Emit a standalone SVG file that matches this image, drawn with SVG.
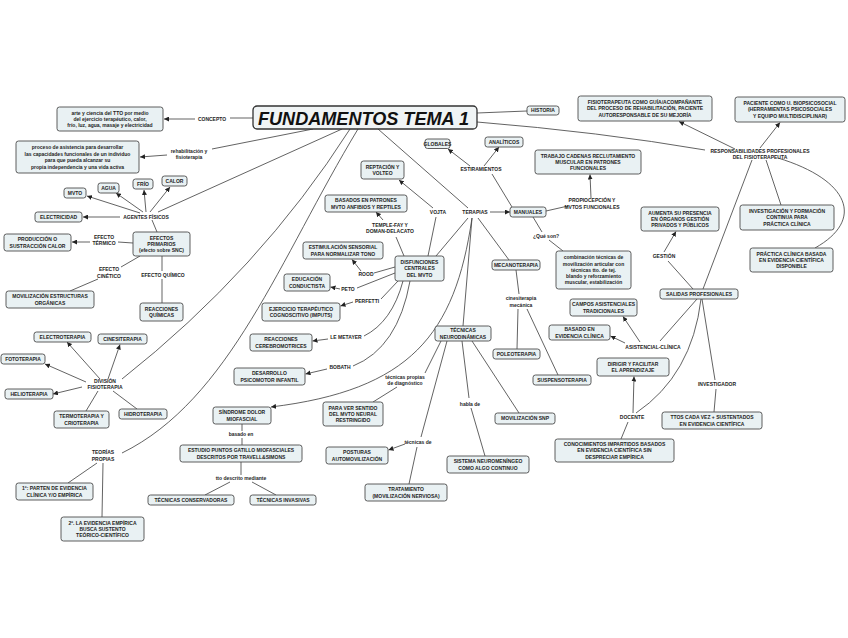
<svg xmlns="http://www.w3.org/2000/svg" width="848" height="638" viewBox="0 0 848 638">
<defs>
<marker id="a" viewBox="0 0 10 10" refX="10" refY="5" markerWidth="5" markerHeight="5" orient="auto" markerUnits="userSpaceOnUse"><path d="M0,0 L10,5 L0,10 z" fill="#222"/></marker>
<style>
.b{fill:#e9f1f3;stroke:#4d4d4d;stroke-width:0.9}
text{font-family:"Liberation Sans",Arial,sans-serif;font-size:5px;font-weight:bold;fill:#1e1e1e;text-anchor:middle}
.c path{fill:none;stroke:#474747;stroke-width:0.85}
.c .ar{marker-end:url(#a)}
.t{fill:#f0f4f5;stroke:#333;stroke-width:1.3}
.tt{font-size:19px;font-style:italic;text-anchor:start;fill:#111}
</style>
</defs>
<rect width="848" height="638" fill="#fff"/>
<g class="c">
<path d="M253,118 L230,118"/>
<path class="ar" d="M195,119 L164,119"/>
<path d="M313,129 L212,149"/>
<path class="ar" d="M167,155 L140,157"/>
<path d="M342,129 L158,212"/>
<path class="ar" d="M140,213 L87,196"/>
<path class="ar" d="M143,212 L116,193"/>
<path class="ar" d="M146,212 L144,190"/>
<path class="ar" d="M150,212 L170,187"/>
<path class="ar" d="M120,217 L83,217"/>
<path d="M152,220 L157,232"/>
<path d="M133,243 L118,242"/>
<path class="ar" d="M90,242 L72,242"/>
<path d="M140,256 L121,267"/>
<path d="M98,279 L70,291"/>
<path d="M162,256 L162,271"/>
<path d="M162,279 L162,303"/>
<path d="M350,129 Q260,270 122,379"/>
<path class="ar" d="M100,379 L67,342"/>
<path class="ar" d="M108,379 L120,344.5"/>
<path class="ar" d="M86,382 L45,364"/>
<path class="ar" d="M82,387 L53,394"/>
<path d="M98,391 L86,411"/>
<path d="M113,391 L137,409"/>
<path d="M358,129 C280,258 230,400 122,453"/>
<path d="M97,463 L68,483"/>
<path d="M103,463 L102,517"/>
<path class="ar" d="M472,218 C455,335 410,390 271,407"/>
<path d="M242,424 L242,431"/>
<path d="M242,438 L242,445"/>
<path d="M241,462 L241,475"/>
<path d="M230,482 L205,495"/>
<path d="M252,482 L276,495"/>
<path d="M378,129 L468,208"/>
<path class="ar" d="M490,212 L510,212"/>
<path d="M512,207 L492,174"/>
<path class="ar" d="M470,166 L448,149"/>
<path class="ar" d="M484,166 L499,147"/>
<path d="M533,217 L542,232"/>
<path d="M549,240 L563,251"/>
<path d="M546,211 L568,206"/>
<path class="ar" d="M591,198 L590,174.5"/>
<path d="M468,218 L436,256"/>
<path d="M472,218 L463,326"/>
<path d="M478,218 L509,260"/>
<path d="M428,256 L436,217"/>
<path class="ar" d="M433,208 L399,180"/>
<path d="M404,256 L396,237"/>
<path class="ar" d="M383,220 L376,212"/>
<path d="M395,267 L374,273"/>
<path class="ar" d="M361,271 L352,259.5"/>
<path d="M395,273 L357,288"/>
<path class="ar" d="M340,289 L330.5,287"/>
<path d="M398,281 L381,299"/>
<path class="ar" d="M353,302 L340.5,306"/>
<path d="M403,281 Q392,322 364,336"/>
<path class="ar" d="M328,339 L312.5,341"/>
<path d="M410,281 Q398,348 353,366"/>
<path class="ar" d="M327,369 L305.5,374"/>
<path d="M441,341 L425,373"/>
<path d="M397,387 L373,402"/>
<path d="M447,341 L421,437"/>
<path d="M417,447 L409,484"/>
<path class="ar" d="M405,444 L388.5,450"/>
<path d="M462,341 L469,398"/>
<path d="M471,408 L485,456"/>
<path d="M472,341 L519,413"/>
<path d="M516,270 L519,294"/>
<path d="M518,309 L517,349"/>
<path d="M527,309 L558,375"/>
<path d="M477,113 L527,111"/>
<path d="M477,122 Q600,132 705,150"/>
<path class="ar" d="M735,149 L679,121.5"/>
<path class="ar" d="M760,148 L780,122.5"/>
<path d="M766,160 L781,205"/>
<path d="M778,158 C850,180 865,220 815,248"/>
<path d="M752,160 L703,289"/>
<path d="M693,289 L668,261"/>
<path class="ar" d="M664,252 L676,231.5"/>
<path d="M697,299 L660,341"/>
<path class="ar" d="M640,342 L623,316.5"/>
<path class="ar" d="M625,343 L610.5,336"/>
<path d="M701,299 Q692,375 636,413"/>
<path class="ar" d="M633,413 L634,376.5"/>
<path d="M628,422 L621,439"/>
<path d="M702,299 L715,380"/>
<path d="M716,389 L714,412"/>
</g>
<g id="labels">
<text x="212" y="120.8">CONCEPTO</text>
<text x="189" y="152.5">rehabilitación y<tspan x="189" dy="6.3">fisioterapia</tspan></text>
<text x="146" y="218.5">AGENTES FÍSICOS</text>
<text x="104" y="238.5">EFECTO<tspan x="104" dy="6.6">TÉRMICO</tspan></text>
<text x="109" y="271">EFECTO<tspan x="109" dy="6.5">CINÉTICO</tspan></text>
<text x="163" y="277">EFECTO QUÍMICO</text>
<text x="105" y="382.5">DIVISIÓN<tspan x="105" dy="6.3">FISIOTERAPIA</tspan></text>
<text x="103" y="454">TEORÍAS<tspan x="103" dy="6.5">PROPIAS</tspan></text>
<text x="390" y="227">TEMPLE-FAY Y<tspan x="390" dy="6.3">DOMAN-DELACATO</tspan></text>
<text x="438" y="213.8">VOJTA</text>
<text x="366" y="276">ROOD</text>
<text x="348" y="291">PETO</text>
<text x="367" y="302.8">PERFETTI</text>
<text x="346" y="338.5">LE METAYER</text>
<text x="340" y="368.5">BOBATH</text>
<text x="405" y="378.5">técnicas propias<tspan x="405" dy="6.5">de diagnóstico</tspan></text>
<text x="241" y="436">basado en</text>
<text x="241" y="480">tto descrito mediante</text>
<text x="418" y="444">técnicas de</text>
<text x="470" y="405.8">habla de</text>
<text x="521" y="300">cinesiterapia<tspan x="521" dy="6.8">mecánica</tspan></text>
<text x="546" y="237.5">¿Qué son?</text>
<text x="475" y="214">TERAPIAS</text>
<text x="481" y="170.8">ESTIRAMIENTOS</text>
<text x="592" y="201.8">PROPIOCEPCIÓN Y<tspan x="592" dy="6.7">MVTOS FUNCIONALES</tspan></text>
<text x="760" y="152.5">RESPONSABILIDADES PROFESIONALES<tspan x="760" dy="6">DEL FISIOTERAPEUTA</tspan></text>
<text x="664" y="257.5">GESTIÓN</text>
<text x="653" y="348.5">ASISTENCIAL-CLÍNICA</text>
<text x="717" y="385.8">INVESTIGADOR</text>
<text x="632" y="419">DOCENTE</text>
</g>
<g id="title"><rect class="t" x="253" y="106" width="224" height="23" rx="4"/><text class="tt" x="258" y="124.5" textLength="211" lengthAdjust="spacingAndGlyphs">FUNDAMENTOS TEMA 1</text></g>
<g id="n_arte"><rect class="b" x="57" y="107" width="106" height="24" rx="2.5"/><text x="110" y="114.5">arte y ciencia del TTO por medio<tspan x="110" dy="6.3">del ejercicio terapéutico, calor,</tspan><tspan x="110" dy="6.3">frío, luz, agua, masaje y electricidad</tspan></text></g>
<g id="n_proc"><rect class="b" x="16" y="141" width="123" height="32" rx="2.5"/><text x="77.5" y="149.3">proceso de asistencia para desarrollar<tspan x="77.5" dy="6.5">las capacidades funcionales de un individuo</tspan><tspan x="77.5" dy="6.5">para que pueda alcanzar su</tspan><tspan x="77.5" dy="6.5">propia independencia y una vida activa</tspan></text></g>
<g id="n_mvto"><rect class="b" x="64" y="188" width="22" height="10" rx="2.5"/><text x="75" y="194.8">MVTO</text></g>
<g id="n_agua"><rect class="b" x="98" y="183" width="21" height="10" rx="2.5"/><text x="108.5" y="189.8">AGUA</text></g>
<g id="n_frio"><rect class="b" x="133" y="179" width="20" height="10" rx="2.5"/><text x="143" y="185.8">FRÍO</text></g>
<g id="n_calor"><rect class="b" x="162" y="176" width="25" height="10" rx="2.5"/><text x="174.5" y="182.8">CALOR</text></g>
<g id="n_elec"><rect class="b" x="35" y="212" width="47" height="10" rx="2.5"/><text x="58.5" y="218.8">ELECTRICIDAD</text></g>
<g id="n_efectos"><rect class="b" x="133" y="232" width="57" height="24" rx="2.5"/><text x="161.5" y="239.5">EFECTOS<tspan x="161.5" dy="6.3">PRIMARIOS</tspan><tspan x="161.5" dy="6.3">(efecto sobre SNC)</tspan></text></g>
<g id="n_prod"><rect class="b" x="4" y="234" width="67" height="17" rx="2.5"/><text x="37.5" y="241.2">PRODUCCIÓN O<tspan x="37.5" dy="6.3">SUSTRACCIÓN CALOR</tspan></text></g>
<g id="n_movest"><rect class="b" x="6" y="291" width="88" height="17" rx="2.5"/><text x="50" y="298.2">MOVILIZACIÓN ESTRUCTURAS<tspan x="50" dy="6.3">ORGÁNICAS</tspan></text></g>
<g id="n_reacq"><rect class="b" x="140" y="303" width="43" height="18" rx="2.5"/><text x="161.5" y="310.7">REACCIONES<tspan x="161.5" dy="6.3">QUÍMICAS</tspan></text></g>
<g id="n_electro"><rect class="b" x="34" y="332" width="57" height="10" rx="2.5"/><text x="62.5" y="338.8">ELECTROTERAPIA</text></g>
<g id="n_cines"><rect class="b" x="98" y="334" width="49" height="10" rx="2.5"/><text x="122.5" y="340.8">CINESITERAPIA</text></g>
<g id="n_foto"><rect class="b" x="1" y="354" width="44" height="10" rx="2.5"/><text x="23" y="360.8">FOTOTERAPIA</text></g>
<g id="n_helio"><rect class="b" x="5" y="389" width="48" height="10" rx="2.5"/><text x="29" y="395.8">HELIOTERAPIA</text></g>
<g id="n_termo"><rect class="b" x="54" y="411" width="55" height="17" rx="2.5"/><text x="81.5" y="418.2">TERMOTERAPIA Y<tspan x="81.5" dy="6.3">CRIOTERAPIA</tspan></text></g>
<g id="n_hidro"><rect class="b" x="119" y="409" width="48" height="10" rx="2.5"/><text x="143" y="415.8">HIDROTERAPIA</text></g>
<g id="n_t1"><rect class="b" x="16" y="483" width="77" height="17" rx="2.5"/><text x="54.5" y="490.2">1º: PARTEN DE EVIDENCIA<tspan x="54.5" dy="6.3">CLÍNICA Y/O EMPÍRICA</tspan></text></g>
<g id="n_t2"><rect class="b" x="61" y="517" width="83" height="24" rx="2.5"/><text x="102.5" y="524.5">2º. LA EVIDENCIA EMPÍRICA<tspan x="102.5" dy="6.3">BUSCA SUSTENTO</tspan><tspan x="102.5" dy="6.3">TEÓRICO-CIENTÍFICO</tspan></text></g>
<g id="n_rept"><rect class="b" x="361" y="161" width="43" height="18" rx="2.5"/><text x="382.5" y="168.7">REPTACIÓN Y<tspan x="382.5" dy="6.3">VOLTEO</tspan></text></g>
<g id="n_basados"><rect class="b" x="325" y="195" width="82" height="17" rx="2.5"/><text x="366" y="202.2">BASADOS EN PATRONES<tspan x="366" dy="6.3">MVTO ANFIBIOS Y REPTILES</tspan></text></g>
<g id="n_estim"><rect class="b" x="303" y="242" width="80" height="17" rx="2.5"/><text x="343" y="249.2">ESTIMULACIÓN SENSORIAL<tspan x="343" dy="6.3">PARA NORMALIZAR TONO</tspan></text></g>
<g id="n_educ"><rect class="b" x="284" y="274" width="46" height="17" rx="2.5"/><text x="307" y="281.2">EDUCACIÓN<tspan x="307" dy="6.3">CONDUCTISTA</tspan></text></g>
<g id="n_ejer"><rect class="b" x="262" y="303" width="78" height="18" rx="2.5"/><text x="301" y="310.7">EJERCICIO TERAPÉUTICO<tspan x="301" dy="6.3">COGNOSCITIVO (IMPUTS)</tspan></text></g>
<g id="n_reacc"><rect class="b" x="250" y="334" width="62" height="17" rx="2.5"/><text x="281" y="341.2">REACCIONES<tspan x="281" dy="6.3">CEREBROMOTRICES</tspan></text></g>
<g id="n_desa"><rect class="b" x="234" y="368" width="71" height="17" rx="2.5"/><text x="269.5" y="375.2">DESARROLLO<tspan x="269.5" dy="6.3">PSICOMOTOR INFANTIL</tspan></text></g>
<g id="n_disf"><rect class="b" x="395" y="256" width="49" height="25" rx="2.5"/><text x="419.5" y="264">DISFUNCIONES<tspan x="419.5" dy="6.3">CENTRALES</tspan><tspan x="419.5" dy="6.3">DEL MVTO</tspan></text></g>
<g id="n_sind"><rect class="b" x="213" y="407" width="58" height="17" rx="2.5"/><text x="242" y="414.2">SÍNDROME DOLOR<tspan x="242" dy="6.3">MIOFASCIAL</tspan></text></g>
<g id="n_estud"><rect class="b" x="180" y="445" width="122" height="17" rx="2.5"/><text x="241" y="452.2">ESTUDIO PUNTOS GATILLO MIOFASCIALES<tspan x="241" dy="6.3">DESCRITOS POR TRAVELL&amp;SIMONS</tspan></text></g>
<g id="n_conserv"><rect class="b" x="148" y="495" width="86" height="10" rx="2.5"/><text x="191" y="501.8">TÉCNICAS CONSERVADORAS</text></g>
<g id="n_invas"><rect class="b" x="250" y="495" width="66" height="10" rx="2.5"/><text x="283" y="501.8">TÉCNICAS INVASIVAS</text></g>
<g id="n_paraver"><rect class="b" x="323" y="402" width="60" height="24" rx="2.5"/><text x="353" y="409.5">PARA VER SENTIDO<tspan x="353" dy="6.3">DEL MVTO NEURAL</tspan><tspan x="353" dy="6.3">RESTRINGIDO</tspan></text></g>
<g id="n_post"><rect class="b" x="326" y="447" width="62" height="17" rx="2.5"/><text x="357" y="454.2">POSTURAS<tspan x="357" dy="6.3">AUTOMOVILIZACIÓN</tspan></text></g>
<g id="n_trat"><rect class="b" x="365" y="484" width="82" height="17" rx="2.5"/><text x="406" y="491.2">TRATAMIENTO<tspan x="406" dy="6.3">(MOVILIZACIÓN NERVIOSA)</tspan></text></g>
<g id="n_sist"><rect class="b" x="447" y="456" width="82" height="17" rx="2.5"/><text x="488" y="463.2">SISTEMA NEUROMENÍNGEO<tspan x="488" dy="6.3">COMO ALGO CONTINUO</tspan></text></g>
<g id="n_movsnp"><rect class="b" x="495" y="413" width="60" height="11" rx="2.5"/><text x="525" y="420.3">MOVILIZACIÓN SNP</text></g>
<g id="n_tecn"><rect class="b" x="435" y="326" width="56" height="15" rx="2.5"/><text x="463" y="332.2">TÉCNICAS<tspan x="463" dy="6.3">NEURODINÁMICAS</tspan></text></g>
<g id="n_mecano"><rect class="b" x="492" y="260" width="48" height="10" rx="2.5"/><text x="516" y="266.8">MECANOTERAPIA</text></g>
<g id="n_poleo"><rect class="b" x="493" y="349" width="47" height="10" rx="2.5"/><text x="516.5" y="355.8">POLEOTERAPIA</text></g>
<g id="n_susp"><rect class="b" x="533" y="375" width="58" height="10" rx="2.5"/><text x="562" y="381.8">SUSPENSOTERAPIA</text></g>
<g id="n_comb"><rect class="b" x="556" y="251" width="75" height="38" rx="2.5"/><text x="593.5" y="259.2">combinación técnicas de<tspan x="593.5" dy="6.3">movilización articular con</tspan><tspan x="593.5" dy="6.3">técnicas tto. de tej.</tspan><tspan x="593.5" dy="6.3">blando y reforzamiento</tspan><tspan x="593.5" dy="6.3">muscular, estabilización</tspan></text></g>
<g id="n_manu"><rect class="b" x="510" y="207" width="36" height="10" rx="2.5"/><text x="528" y="213.8">MANUALES</text></g>
<g id="n_glob"><rect class="b" x="425" y="139" width="25" height="9.5" rx="2.5"/><text x="437.5" y="145.5">GLOBALES</text></g>
<g id="n_anal"><rect class="b" x="485" y="137" width="38" height="10" rx="2.5"/><text x="504" y="143.8">ANALÍTICOS</text></g>
<g id="n_hist"><rect class="b" x="527" y="106" width="32" height="9" rx="2.5"/><text x="543" y="112.3">HISTORIA</text></g>
<g id="n_trab"><rect class="b" x="535" y="150" width="106" height="24" rx="2.5"/><text x="588" y="157.5">TRABAJO CADENAS RECLUTAMIENTO<tspan x="588" dy="6.3">MUSCULAR EN PATRONES</tspan><tspan x="588" dy="6.3">FUNCIONALES</tspan></text></g>
<g id="n_fisio"><rect class="b" x="578" y="96" width="134" height="25" rx="2.5"/><text x="645" y="104">FISIOTERAPEUTA COMO GUÍA/ACOMPAÑANTE<tspan x="645" dy="6.3">DEL PROCESO DE REHABILITACIÓN, PACIENTE</tspan><tspan x="645" dy="6.3">AUTORESPONSABLE DE SU MEJORÍA</tspan></text></g>
<g id="n_pac"><rect class="b" x="735" y="97" width="110" height="25" rx="2.5"/><text x="790" y="105">PACIENTE COMO U. BIOPSICOSOCIAL<tspan x="790" dy="6.3">(HERRAMIENTAS PSICOSOCIALES</tspan><tspan x="790" dy="6.3">Y EQUIPO MULTIDISCIPLINAR)</tspan></text></g>
<g id="n_aument"><rect class="b" x="641" y="207" width="78" height="24" rx="2.5"/><text x="680" y="214.5">AUMENTA SU PRESENCIA<tspan x="680" dy="6.3">EN ÓRGANOS GESTIÓN</tspan><tspan x="680" dy="6.3">PRIVADOS Y PÚBLICOS</tspan></text></g>
<g id="n_invest"><rect class="b" x="740" y="205" width="94" height="25" rx="2.5"/><text x="787" y="213">INVESTIGACIÓN Y FORMACIÓN<tspan x="787" dy="6.3">CONTINUA PARA</tspan><tspan x="787" dy="6.3">PRÁCTICA CLÍNICA</tspan></text></g>
<g id="n_pract"><rect class="b" x="750" y="248" width="83" height="24" rx="2.5"/><text x="791.5" y="255.5">PRÁCTICA CLÍNICA BASADA<tspan x="791.5" dy="6.3">EN EVIDENCIA CIENTÍFICA</tspan><tspan x="791.5" dy="6.3">DISPONIBLE</tspan></text></g>
<g id="n_salid"><rect class="b" x="660" y="289" width="78" height="10" rx="2.5"/><text x="699" y="295.8">SALIDAS PROFESIONALES</text></g>
<g id="n_campos"><rect class="b" x="570" y="299" width="67" height="17" rx="2.5"/><text x="603.5" y="306.2">CAMPOS ASISTENCIALES<tspan x="603.5" dy="6.3">TRADICIONALES</tspan></text></g>
<g id="n_basado"><rect class="b" x="549" y="325" width="61" height="15" rx="2.5"/><text x="579.5" y="331.2">BASADO EN<tspan x="579.5" dy="6.3">EVIDENCIA CLÍNICA</tspan></text></g>
<g id="n_dirig"><rect class="b" x="597" y="358" width="72" height="18" rx="2.5"/><text x="633" y="365.7">DIRIGIR Y FACILITAR<tspan x="633" dy="6.3">EL APRENDIZAJE</tspan></text></g>
<g id="n_ttos"><rect class="b" x="662" y="412" width="100" height="17" rx="2.5"/><text x="712" y="419.2">TTOS CADA VEZ + SUSTENTADOS<tspan x="712" dy="6.3">EN EVIDENCIA CIENTÍFICA</tspan></text></g>
<g id="n_conoc"><rect class="b" x="555" y="439" width="119" height="23" rx="2.5"/><text x="614.5" y="446">CONOCIMIENTOS IMPARTIDOS BASADOS<tspan x="614.5" dy="6.3">EN EVIDENCIA CIENTÍFICA SIN</tspan><tspan x="614.5" dy="6.3">DESPRECIAR EMPÍRICA</tspan></text></g>
</svg>
